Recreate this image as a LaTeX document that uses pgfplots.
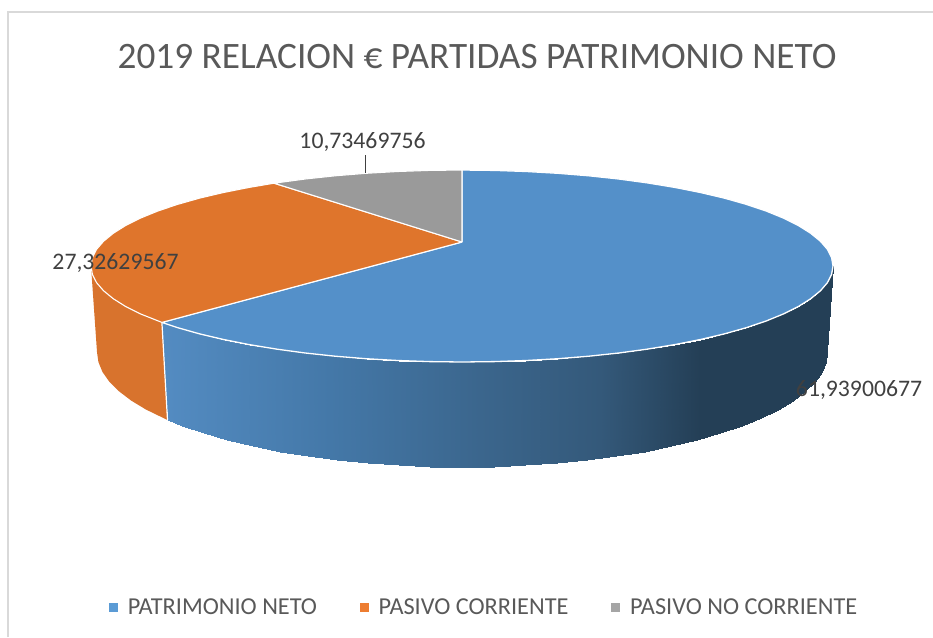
\documentclass[border=0pt]{standalone}
\usepackage{pgfplots}
\pgfplotsset{compat=1.18}
\usepackage{fontspec}
\setmainfont{Carlito}
\definecolor{topblue}{RGB}{84,144,201}
\definecolor{toporange}{RGB}{223,117,44}
\definecolor{topgrey}{RGB}{154,154,154}
\definecolor{sideorange}{RGB}{216,115,45}
\definecolor{titlegrey}{RGB}{89,89,89}
\definecolor{labelgrey}{RGB}{64,64,64}
\definecolor{framegrey}{RGB}{217,217,217}
\definecolor{legblue}{RGB}{91,155,213}
\definecolor{legorange}{RGB}{237,125,49}
\definecolor{leggrey}{RGB}{165,165,165}
\begin{document}
\begin{tikzpicture}
\path (0,0) rectangle (933pt,637pt);
\begin{axis}[
  at={(0,0)},anchor=south west,
  x=1pt,y=1pt,y dir=reverse,
  xmin=0,xmax=933,ymin=0,ymax=637,
  hide axis,clip=true,
  colormap={side}{rgb255(168pt)=(83,139,193); rgb255(330pt)=(68,120,168); rgb255(480pt)=(59,102,141); rgb255(600pt)=(52,89,122); rgb255(700pt)=(36,63,86); rgb255(833pt)=(36,63,86)},
  point meta min=168,point meta max=833,
  legend columns=3,
  legend cell align=left,
  legend style={at={(axis cs:109.4,607)},anchor=west,draw=none,fill=none,inner sep=0pt,outer sep=0pt,
    font=\fontsize{24.3}{28}\selectfont\color{titlegrey},
    /tikz/every odd column/.append style={column sep=8.5pt},
    /tikz/every even column/.append style={column sep=41.2pt}},
]
% frame
\addplot[framegrey,line width=2pt,forget plot] coordinates {(8,637) (8,12) (933,12)};
% blue side
\addplot[surf,shader=interp,mesh/rows=2,point meta=x,forget plot] table {
x y
161.9 322.4
177.8 327.7
199.7 333.9
223.5 339.5
249.2 344.6
276.5 349.1
305.2 353
335.1 356.2
366 358.7
397.6 360.5
429.6 361.6
462 362
494.4 361.6
526.4 360.5
558 358.7
588.9 356.2
618.8 353
647.5 349.1
674.8 344.6
700.5 339.5
724.3 333.9
746.2 327.7
765.9 321.1
783.3 314
798.2 306.6
810.6 298.8
820.4 290.8
827.4 282.7
831.6 274.4
833 266
167.5 420
182.4 425.9
203.9 433.3
227.4 440.1
252.6 446.2
279.5 451.6
307.8 456.2
337.2 460.1
367.5 463.1
398.6 465.3
430.2 466.6
462 467
493.8 466.6
525.4 465.3
556.5 463.1
586.8 460.1
616.2 456.2
644.5 451.6
671.4 446.2
696.6 440.1
720.1 433.3
741.6 425.9
761 418
778.1 409.5
792.8 400.6
805 391.3
814.6 381.8
821.5 372
825.6 362
827 352
};
% orange side
\addplot[fill=sideorange,draw=none,forget plot] coordinates {
(91,266) (92.4,274.4) (96.6,282.7) (103.6,290.8) (113.4,298.8) (125.8,306.6) (140.7,314) (161.9,322.4)
(167.5,420) (145.9,409.5) (131.2,400.6) (119,391.3) (109.4,381.8) (102.5,372) (98.4,362) (97,352) (91,266)};
\addplot[white,line width=1.2pt,forget plot] coordinates {(161.9,322.4) (167.5,420)};
% top slices
\addplot[fill=topblue,draw=white,line width=1.3pt,line join=round,forget plot] coordinates {
(462,242) (462,170) (494.4,170.4) (526.4,171.5) (558,173.3) (588.9,175.8) (618.8,179) (647.5,182.9) (674.8,187.4) (700.5,192.5) (724.3,198.1) (746.2,204.3) (765.9,210.9)
(783.3,218) (798.2,225.4) (810.6,233.2) (820.4,241.2) (827.4,249.3) (831.6,257.6) (833,266) (831.6,274.4) (827.4,282.7) (820.4,290.8) (810.6,298.8) (798.2,306.6) (783.3,314) (765.9,321.1)
(746.2,327.7) (724.3,333.9) (700.5,339.5) (674.8,344.6) (647.5,349.1) (618.8,353) (588.9,356.2) (558,358.7) (526.4,360.5) (494.4,361.6) (462,362) (429.6,361.6) (397.6,360.5) (366,358.7)
(335.1,356.2) (305.2,353) (276.5,349.1) (249.2,344.6) (223.5,339.5) (199.7,333.9) (177.8,327.7) (161.9,322.4) (462,242)};
\addplot[fill=toporange,draw=white,line width=1.1pt,line join=round,forget plot] coordinates {
(462,242) (161.9,322.4) (140.7,314) (125.8,306.6) (113.4,298.8) (103.6,290.8) (96.6,282.7) (92.4,274.4) (91,266) (92.4,257.6) (96.6,249.3) (103.6,241.2) (113.4,233.2) (125.8,225.4)
(140.7,218) (158.1,210.9) (177.8,204.3) (199.7,198.1) (223.5,192.5) (249.2,187.4) (274,183.2) (462,242)};
\addplot[fill=topgrey,draw=white,line width=1.1pt,line join=round,forget plot] coordinates {
(462,242) (274,183.2) (305.2,179) (335.1,175.8) (366,173.3) (397.6,171.5) (429.6,170.4) (462,170) (462,242)};
% leader
\addplot[labelgrey,line width=0.9pt,forget plot] coordinates {(365,155) (365,173)};
% legend
\addlegendimage{only marks,mark=square*,mark size=4pt,mark options={fill=legblue,draw=legblue,line width=0pt}}
\addlegendentry{PATRIMONIO NETO}
\addlegendimage{only marks,mark=square*,mark size=4pt,mark options={fill=legorange,draw=legorange,line width=0pt}}
\addlegendentry{PASIVO CORRIENTE}
\addlegendimage{only marks,mark=square*,mark size=4pt,mark options={fill=leggrey,draw=leggrey,line width=0pt}}
\addlegendentry{PASIVO NO CORRIENTE}
% text
\node[text=titlegrey,font=\fontsize{37.3}{44}\selectfont,inner sep=0pt] at (axis cs:477,57) {2019 RELACION € PARTIDAS PATRIMONIO NETO};
\node[text=labelgrey,font=\fontsize{23.7}{28}\selectfont,inner sep=0pt] at (axis cs:362.5,142) {10,73469756};
\node[text=labelgrey,font=\fontsize{23.7}{28}\selectfont,inner sep=0pt] at (axis cs:115.5,263) {27,32629567};
\node[text=labelgrey,font=\fontsize{23.7}{28}\selectfont,inner sep=0pt] at (axis cs:859,390) {61,93900677};
\end{axis}
\end{tikzpicture}
\end{document}
